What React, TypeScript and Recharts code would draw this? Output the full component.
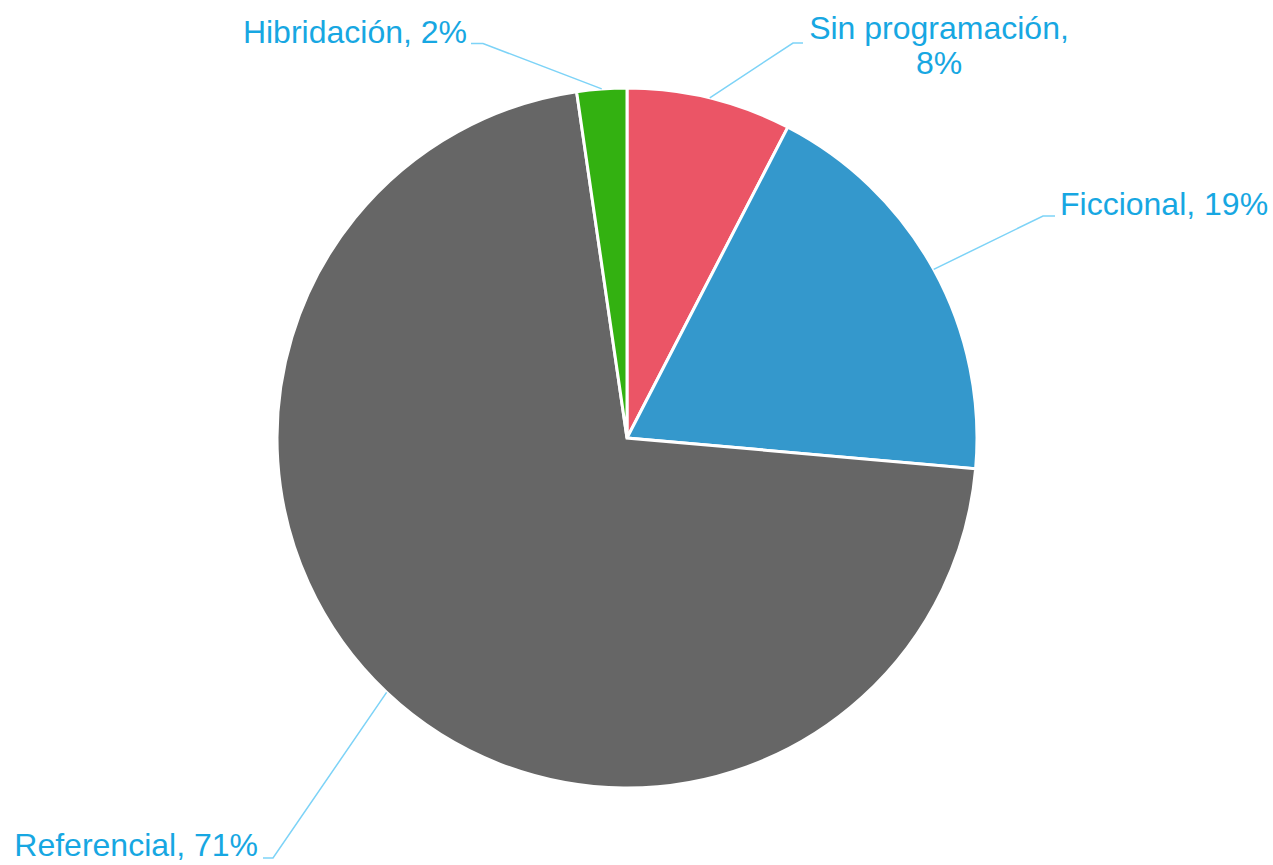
import React from "react";
import { PieChart, Pie, Cell } from "recharts";

const categories = ["Sin programación", "Ficcional", "Referencial", "Hibridación"];
const shares = [7.6, 18.8, 71.3, 2.3];
const colors = ["#EB5566", "#3498CC", "#666666", "#33B111"];

// label placement, offsets from the pie centre
const labelLayout = [
  { elbow: [166, -395], end: [176, -395], text: [312, -399], anchor: "middle", lines: 2 },
  { elbow: [416, -222], end: [428, -222], text: [433, -223], anchor: "start", lines: 1 },
  { elbow: [-354, 420], end: [-364, 420], text: [-369, 418], anchor: "end", lines: 1 },
  { elbow: [-144, -394.5], end: [-156, -394.5], text: [-160, -395], anchor: "end", lines: 1 },
];

const data = categories.map((name, i) => ({ name, value: shares[i] }));

const RADIAN = Math.PI / 180;
const TEXT_COLOR = "#17A7E2";
const LINE_COLOR = "#7DD3F7";

function renderLabel(props: any) {
  const { cx, cy, midAngle, outerRadius, percent, index, name } = props;
  const lay = labelLayout[index];
  const sx = cx + outerRadius * Math.cos(-midAngle * RADIAN);
  const sy = cy + outerRadius * Math.sin(-midAngle * RADIAN);
  const ex = cx + lay.elbow[0];
  const ey = cy + lay.elbow[1];
  const tx = cx + lay.end[0];
  const ty = cy + lay.end[1];
  const pct = `${Math.round(percent * 100)}%`;
  return (
    <g key={`lbl-${index}`}>
      <polyline
        points={`${sx},${sy} ${ex},${ey} ${tx},${ty}`}
        fill="none"
        stroke={LINE_COLOR}
        strokeWidth={1.5}
      />
      <text
        x={cx + lay.text[0]}
        y={cy + lay.text[1]}
        textAnchor={lay.anchor}
        fill={TEXT_COLOR}
        fontSize={32}
        fontFamily="'Liberation Sans', Arial, sans-serif"
      >
        {lay.lines === 2 ? (
          <>
            <tspan x={cx + lay.text[0]}>{`${name},`}</tspan>
            <tspan x={cx + lay.text[0]} dy={35}>{pct}</tspan>
          </>
        ) : (
          `${name}, ${pct}`
        )}
      </text>
    </g>
  );
}

export default function App() {
  return (
    <div style={{ position: "absolute", left: 0, top: 0, background: "#fff" }}>
      <PieChart width={1273} height={865} margin={{ top: 0, right: 0, bottom: 0, left: 0 }}>
        <Pie
          data={data}
          dataKey="value"
          nameKey="name"
          cx={627}
          cy={438}
          outerRadius={350}
          startAngle={90}
          endAngle={-270}
          stroke="#fff"
          strokeWidth={3}
          label={renderLabel}
          labelLine={false}
          isAnimationActive={false}
        >
          {data.map((d, i) => (
            <Cell key={d.name} fill={colors[i]} />
          ))}
        </Pie>
      </PieChart>
    </div>
  );
}
